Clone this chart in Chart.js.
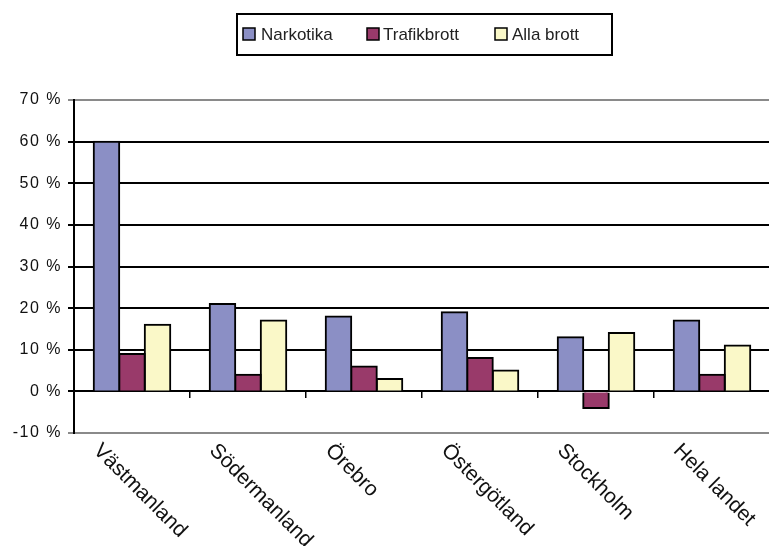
<!DOCTYPE html>
<html>
<head>
<meta charset="utf-8">
<script src="https://cdn.jsdelivr.net/npm/chart.js@4"></script>
<style>
  html, body { margin: 0; padding: 0; background: #fff; overflow: hidden; }
  #wrap { width: 772px; height: 546px; }
</style>
</head>
<body>
<div id="wrap"><canvas id="brottChart"></canvas></div>
<script>
// Data (percent change)
const regions = ["Västmanland", "Södermanland", "Örebro", "Östergötland", "Stockholm", "Hela landet"];
const narkotika = [60, 21, 18, 19, 13, 17];
const trafikbrott = [9, 4, 6, 8, -4, 4];
const allaBrott = [16, 17, 3, 5, 14, 11];
const seriesNames = ["Narkotika", "Trafikbrott", "Alla brott"];
const seriesColors = ["#8b8fc5", "#993a6a", "#faf8c8"];

const FONT = "'Liberation Sans', Arial, sans-serif";

// spaced-out digits on the value axis
const spacedTicks = {
  id: "spacedTicks",
  beforeDraw(chart) { chart.ctx.letterSpacing = "1.5px"; },
  beforeDatasetsDraw(chart) { chart.ctx.letterSpacing = "0px"; }
};

// Boxed legend above the plot, like the original
const boxLegend = {
  id: "boxLegend",
  afterDraw(chart) {
    const c = chart.ctx;
    c.save();
    c.lineWidth = 2;
    c.strokeStyle = "#000";
    c.strokeRect(237, 14, 375, 41);
    const items = [
      { x: 243, tx: 261 },
      { x: 367, tx: 383 },
      { x: 495, tx: 512 }
    ];
    c.font = "17px " + FONT;
    c.textBaseline = "middle";
    items.forEach((it, i) => {
      c.fillStyle = seriesColors[i];
      c.fillRect(it.x, 28, 12, 12);
      c.lineWidth = 1.5;
      c.strokeStyle = "#000";
      c.strokeRect(it.x, 28, 12, 12);
      c.fillStyle = "#222";
      c.fillText(seriesNames[i], it.tx, 35);
    });
    c.restore();
  }
};

// Category labels slanted downwards to the right
const slantLabels = {
  id: "slantLabels",
  afterDraw(chart) {
    const c = chart.ctx;
    const xs = chart.scales.x;
    c.save();
    c.font = "21px " + FONT;
    c.fillStyle = "#111";
    c.textAlign = "left";
    c.textBaseline = "top";
    regions.forEach((r, i) => {
      const px = xs.getPixelForValue(i);
      c.save();
      c.translate(px - 28, 440);
      c.rotate(Math.PI / 4);
      c.fillText(r, 0, 0);
      c.restore();
    });
    c.restore();
  }
};

const ctx = document.getElementById("brottChart").getContext("2d");
new Chart(ctx, {
  type: "bar",
  data: {
    labels: regions,
    datasets: [
      { label: seriesNames[0], data: narkotika, backgroundColor: seriesColors[0] },
      { label: seriesNames[1], data: trafikbrott, backgroundColor: seriesColors[1] },
      { label: seriesNames[2], data: allaBrott, backgroundColor: seriesColors[2] }
    ]
  },
  options: {
    responsive: true,
    maintainAspectRatio: false,
    animation: false,
    layout: { padding: { top: 100, right: 2, bottom: 113, left: 0 } },
    datasets: {
      bar: {
        borderColor: "#000",
        borderWidth: 2,
        inflateAmount: 1,
        categoryPercentage: 0.66,
        barPercentage: 1
      }
    },
    scales: {
      x: {
        position: { y: 0 },
        offset: true,
        ticks: { display: false },
        border: { color: "#000", width: 2 },
        grid: {
          offset: true,
          drawOnChartArea: false,
          drawTicks: true,
          tickLength: 6,
          color: "#000",
          lineWidth: 1.5
        }
      },
      y: {
        min: -10,
        max: 70,
        afterFit(scale) { scale.width = 74; },
        ticks: {
          stepSize: 10,
          color: "#111",
          font: { family: FONT, size: 16 },
          padding: 6,
          callback: (v) => v + " %"
        },
        border: { color: "#000", width: 2 },
        grid: {
          tickLength: 6,
          lineWidth: 2,
          color: (c) => (c.tick && (c.tick.value === 70 || c.tick.value === -10)) ? "#8a8a8a" : "#000"
        }
      }
    },
    plugins: {
      legend: { display: false },
      tooltip: { enabled: false }
    }
  },
  plugins: [spacedTicks, boxLegend, slantLabels]
});
</script>
</body>
</html>
